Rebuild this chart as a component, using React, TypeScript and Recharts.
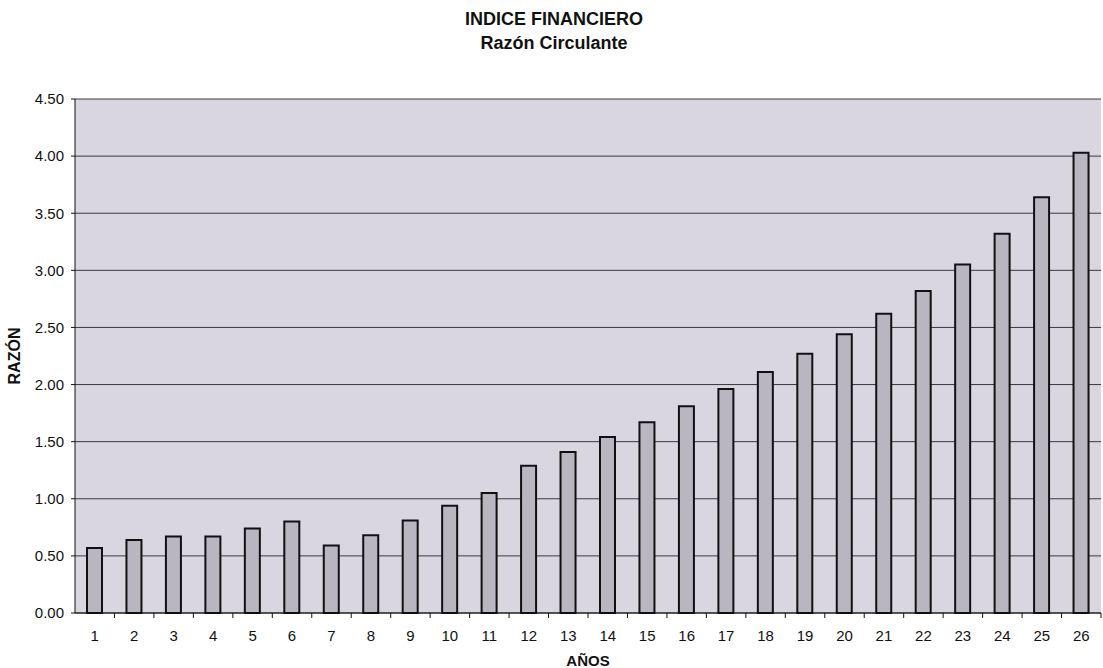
import { BarChart, Bar, XAxis, YAxis, CartesianGrid } from 'recharts';

const years = ['1', '2', '3', '4', '5', '6', '7', '8', '9', '10', '11', '12', '13', '14', '15', '16', '17', '18', '19', '20', '21', '22', '23', '24', '25', '26'];
const ratios = [0.57, 0.64, 0.67, 0.67, 0.74, 0.8, 0.59, 0.68, 0.81, 0.94, 1.05, 1.29, 1.41, 1.54, 1.67, 1.81, 1.96, 2.11, 2.27, 2.44, 2.62, 2.82, 3.05, 3.32, 3.64, 4.03];
const yTicks = [0, 0.5, 1, 1.5, 2, 2.5, 3, 3.5, 4, 4.5];

const W = 1103;
const H = 668;
const LEFT = 75;
const RIGHT = 2;
const STEP = (W - LEFT - RIGHT) / years.length;
const FONT = '"Liberation Sans", Arial, sans-serif';

const data = years.map((y, i) => ({ year: y, value: ratios[i] }));

// excel-style ticks: label in the middle, tick mark on the category boundary
function YearTick(props: any) {
  const { x, y, payload } = props;
  return (
    <g>
      <line x1={x + STEP / 2} x2={x + STEP / 2} y1={y} y2={y + 5} stroke="#111" />
      <text x={x} y={y + 28} textAnchor="middle" fontSize={15} fill="#111" fontFamily={FONT}>
        {payload.value}
      </text>
    </g>
  );
}

export default function App() {
  return (
    <div style={{ position: 'absolute', left: 0, top: 0, width: W, height: H, background: '#fff', fontFamily: FONT }}>
      <div style={{ position: 'absolute', left: 0, width: 1108, top: 7, textAlign: 'center', fontWeight: 'bold', fontSize: 18, color: '#111', lineHeight: '24px' }}>
        <div>INDICE FINANCIERO</div>
        <div>Razón Circulante</div>
      </div>
      <BarChart
        width={W}
        height={H}
        data={data}
        margin={{ top: 99, right: RIGHT, bottom: 20, left: 0 }}
        barSize={15}
      >
        <CartesianGrid vertical={false} stroke="#3a3a3a" fill="#dad6e0" fillOpacity={1} />
        <XAxis
          dataKey="year"
          height={35}
          tickLine={false}
          tickSize={0}
          tickMargin={0}
          axisLine={{ stroke: '#111' }}
          tick={<YearTick />}
          interval={0}
        />
        <YAxis
          width={LEFT}
          domain={[0, 4.5]}
          ticks={yTicks}
          tickFormatter={(v: number) => v.toFixed(2)}
          axisLine={{ stroke: '#111' }}
          tickLine={{ stroke: '#111' }}
          tickSize={4}
          tickMargin={7}
          tick={{ fontSize: 15, fill: '#111', fontFamily: FONT }}
          label={{ value: 'RAZÓN', angle: -90, position: 'insideLeft', offset: 14, style: { fontSize: 16, fontWeight: 'bold', fill: '#111', fontFamily: FONT, textAnchor: 'middle' } }}
        />
        <YAxis yAxisId="border" orientation="right" width={0} tick={false} tickLine={false} axisLine={{ stroke: '#8a8a8a' }} />
        <Bar dataKey="value" fill="#b9b6c0" stroke="#111" strokeWidth={2} isAnimationActive={false} />
      </BarChart>
      <div style={{ position: 'absolute', left: LEFT, width: W - LEFT - RIGHT, top: 652, textAlign: 'center', fontWeight: 'bold', fontSize: 15, color: '#111' }}>
        AÑOS
      </div>
    </div>
  );
}
